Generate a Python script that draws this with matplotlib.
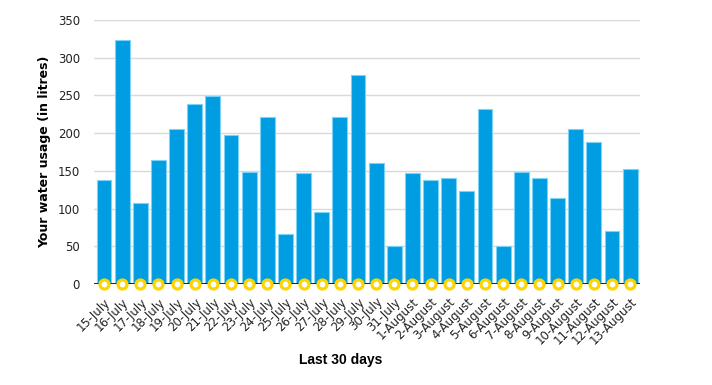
import matplotlib.pyplot as plt
import numpy as np

days = ["15-July", "16-July", "17-July", "18-July", "19-July", "20-July",
        "21-July", "22-July", "23-July", "24-July", "25-July", "26-July",
        "27-July", "28-July", "29-July", "30-July", "31-July",
        "1-August", "2-August", "3-August", "4-August", "5-August",
        "6-August", "7-August", "8-August", "9-August", "10-August",
        "11-August", "12-August", "13-August"]
usage = [138, 323, 107, 164, 205, 239, 249, 197, 148, 221, 67, 147,
         96, 222, 277, 160, 50, 147, 138, 141, 123, 232, 50, 148, 140,
         114, 206, 189, 71, 152]
yticks = [0, 50, 100, 150, 200, 250, 300, 350]

fig = plt.figure(figsize=(7.12, 3.85), dpi=100)
ax = fig.add_axes([0.132, 0.262, 0.767, 0.686])

x = np.arange(len(days))
ax.bar(x, usage, width=0.82, color="#009de2", edgecolor="#7dd3f5",
       linewidth=0.8, zorder=2)
ax.plot(x, np.zeros(len(x)), linestyle="none", marker="o", markersize=6.5,
        markerfacecolor="white", markeredgecolor="#ffd500",
        markeredgewidth=2.3, zorder=4, clip_on=False)
ax.axhline(0, color="black", linewidth=1.2, zorder=3)

ax.set_xlim(-0.55, len(days) - 0.45)
ax.set_ylim(0, 350)
ax.set_yticks(yticks)
ax.yaxis.grid(True, color="#d9d9d9", linewidth=1)
ax.set_axisbelow(True)
for s in ax.spines.values():
    s.set_visible(False)

ax.set_xticks(x)
ax.set_xticklabels(days, rotation=45, ha="right", rotation_mode="anchor",
                   fontsize=8.5, color="#222222")
ax.tick_params(axis="both", length=0, labelsize=8.5, colors="#222222")
ax.tick_params(axis="x", pad=8)
ax.tick_params(axis="y", pad=10)

ax.set_ylabel("Your water usage (in litres)", fontsize=9, fontweight="bold",
              labelpad=5)
fig.text(0.478, 0.065, "Last 30 days", ha="center", va="center",
         fontsize=10, fontweight="bold", family="Liberation Sans")

fig.savefig("out.png", dpi=100)
